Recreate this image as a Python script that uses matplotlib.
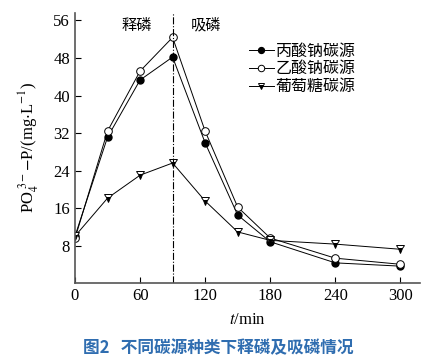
import numpy as np
import matplotlib.pyplot as plt

plt.rcParams['font.family'] = ['Liberation Serif', 'Noto Sans CJK SC']
plt.rcParams['mathtext.fontset'] = 'stix'

t = [0, 30, 60, 90, 120, 150, 180, 240, 300]
propionate = [10.0, 31.1, 43.3, 48.2, 29.9, 14.5, 8.8, 4.3, 3.6]
acetate = [9.5, 32.4, 45.2, 52.4, 32.4, 16.2, 9.6, 5.3, 4.0]
glucose = [10.0, 18.1, 23.0, 25.6, 17.5, 10.9, 9.1, 8.3, 7.2]
labels = ['丙酸钠碳源', '乙酸钠碳源', '葡萄糖碳源']
xticks = [0, 60, 120, 180, 240, 300]
yticks = [8, 16, 24, 32, 40, 48, 56]

fig = plt.figure(figsize=(4.36, 3.61), dpi=100)
ax = fig.add_axes([0.172, 0.216, 0.791, 0.748])

lw = 0.7
ax.plot(t, propionate, color='black', linewidth=lw, marker='o', markersize=5,
        markerfacecolor='black', markeredgecolor='black', label=labels[0])
ax.plot(t, acetate, color='black', linewidth=lw, marker='o', markersize=5.5,
        markerfacecolor='white', markeredgecolor='black', markeredgewidth=0.7, label=labels[1])
ax.plot(t, glucose, color='black', linewidth=lw, marker='v', markersize=5.5,
        fillstyle='bottom', markerfacecolor='black', markerfacecoloralt='white',
        markeredgecolor='black', markeredgewidth=0.7, label=labels[2])

ax.axvline(90, color='black', linestyle='-.', linewidth=0.8)
ax.text(57, 55, '释磷', fontsize=11, ha='center', va='center', family='Noto Sans CJK SC')
ax.text(121, 55, '吸磷', fontsize=11, ha='center', va='center', family='Noto Sans CJK SC')

ax.set_xlim(0, 318)
ax.set_ylim(0, 57.6)
ax.set_xticks(xticks)
ax.set_yticks(yticks)
ax.tick_params(direction='in', length=4, labelsize=12, width=0.8)
ax.spines['top'].set_visible(False)
ax.spines['right'].set_visible(False)
for s in ['left', 'bottom']:
    ax.spines[s].set_linewidth(1.2)
    ax.spines[s].set_color('#555555')

ax.set_ylabel(r'PO$_4^{\ 3-}$$-$P/(mg$\cdot$L$^{-1}$)', fontsize=12, labelpad=9)
ax.set_xlabel(r'$t$/min', fontsize=12, labelpad=6)

leg = ax.legend(loc='upper left', bbox_to_anchor=(0.48, 0.92), frameon=False,
                prop={'family': 'Noto Sans CJK SC', 'size': 11.5}, markerscale=0.85,
                handlelength=1.6, handletextpad=0.1, labelspacing=0.05, borderpad=0)

fig.text(0.5, 0.035, '图2   不同碳源种类下释磷及吸磷情况', ha='center', va='center',
         fontsize=12, fontweight='bold', color='#2f6db0', family='Noto Sans CJK SC')

plt.savefig('out.png', dpi=100)
